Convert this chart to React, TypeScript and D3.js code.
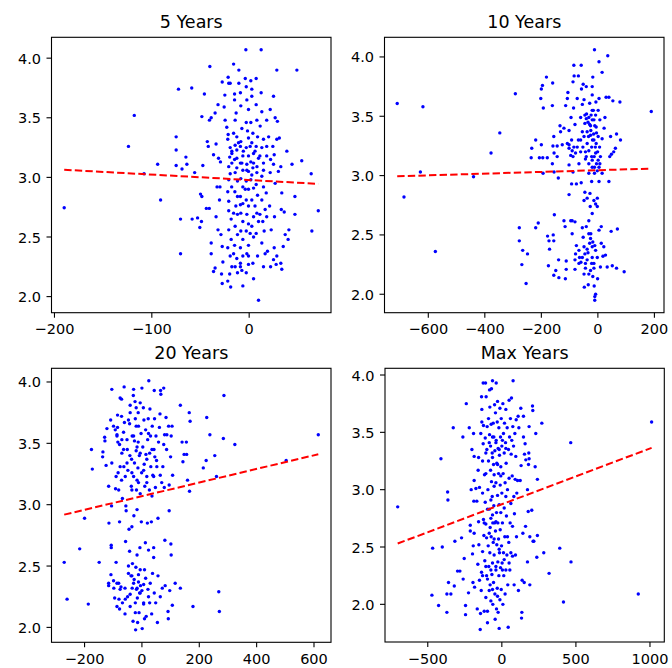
import React from "react";
import * as d3 from "d3";

// scatter values, [x, y]
const years5: [number, number][] = [
  [-190,2.745],[-118,3.52],[-124,3.26],[-108,3.03],[-94,3.11],[-91,2.81],[-75,3.34],[-75,3.23],[-75,3.10],[-72.6,3.74],
  [-70.5,2.65],[-70.5,2.36],[-65,3.17],[-69,3.07],[-64,3.11],[-59,3.75],[-58.6,2.65],[-56,3.04],[-47.6,3.10],[-46,3.70],
  [-48.6,3.51],[-50,2.86],[-48.6,2.84],[-53,2.66],[-50.7,2.58],[-49,2.63],[-40.4,3.93],[-39,3.50],[-40.8,3.48],[-43,3.30],
  [-42,3.26],[-44,2.74],[-41,2.74],[-39,2.45],[-39,2.36],[-36.6,2.21],[-35,2.24],[-35,3.54],[-34,3.28],[-32,3.61],
  [-36.6,3.19],[-31.5,3.16],[-29.5,3.13],[-33,2.92],[-30,2.92],[-30.5,2.81],[-34,2.67],[-32,2.56],[-29,2.52],[-27.7,2.42],
  [-27,2.29],[-28.4,2.19],[-27.7,2.11],[-27.7,3.80],[-25,3.69],[-25.7,3.59],[-24.7,3.48],[-23,3.42],[-21.6,3.84],[-21,3.79],
  [-19.5,3.79],[-21.6,3.36],[-22,3.32],[-19.5,3.25],[-17.8,3.22],[-20,3.17],[-17.8,3.12],[-21,3.09],[-19.5,3.03],[-21,2.98],
  [-18,2.92],[-22,2.88],[-21,2.80],[-21,2.72],[-18.5,2.65],[-21,2.56],[-18.5,2.48],[-22,2.41],[-19.5,2.34],[-17.8,2.25],
  [-20,2.19],[-19,2.08],[-22,2.13],[-16,3.95],[-15,3.70],[-15,3.65],[-13.4,3.54],[-14.4,3.48],[-12.7,3.34],[-14.4,3.27],
  [-12.7,3.23],[-15,3.15],[-12.7,3.08],[-14.4,3.04],[-12,2.97],[-14.7,2.88],[-12,2.84],[-13.7,2.76],[-12,2.69],[-14.4,2.59],
  [-12,2.52],[-15,2.43],[-12.7,2.32],[-14.4,2.25],[-12,2.20],[-10.6,3.90],[-10.6,3.79],[-9,3.71],[-8.6,3.60],[-7.5,3.41],
  [-8.6,3.30],[-9,3.26],[-6.5,3.18],[-9,3.12],[-6.5,3.06],[-8.6,2.99],[-6.5,2.92],[-9,2.84],[-6.5,2.78],[-8.6,2.70],
  [-6.5,2.63],[-8.6,2.55],[-6.5,2.48],[-9,2.41],[-6.5,2.34],[-9,2.28],[-7.5,2.22],[-6.5,2.09],[-4,3.83],[-3,3.76],
  [-3.4,4.07],[-2.4,3.65],[-0.7,3.57],[-3,3.46],[-1.7,3.39],[-0.7,3.33],[-3,3.25],[-0.7,3.18],[-2.4,3.11],[-0.7,3.05],
  [-3,2.97],[-0.7,2.90],[-3,2.81],[-0.7,2.76],[-2.4,2.69],[-0.7,2.61],[-3,2.55],[-0.7,2.43],[-2.4,2.36],[-0.7,2.27],
  [-3,2.20],[1.7,3.81],[2.7,3.74],[2.7,3.68],[1.7,3.46],[3.8,3.37],[2.7,3.29],[4.5,3.20],[1.7,3.13],[3.8,3.08],
  [1.7,2.98],[4.5,2.91],[2.7,2.81],[4.5,2.67],[2.7,2.59],[4.5,2.50],[3.8,2.28],[4.5,2.15],[7.2,3.83],[7.2,3.61],
  [7.9,3.48],[8.6,3.34],[7.2,3.26],[9.6,3.16],[7.9,3.04],[7.2,2.94],[8.6,2.85],[7.9,2.70],[9.6,2.63],[7.2,2.53],
  [8.6,2.34],[9.6,1.97],[12.3,4.07],[12.3,3.71],[13,3.55],[11.3,3.43],[14.7,3.32],[13,3.25],[14.7,3.12],[13,3.01],
  [14.7,2.92],[13,2.81],[16.4,2.73],[14,2.63],[15.4,2.55],[13,2.45],[16.4,2.36],[14.7,2.25],[18,3.48],[18,3.26],
  [18,3.18],[17.5,2.87],[18,2.67],[18.8,2.38],[21.6,3.57],[20,3.34],[21.6,3.04],[22,3.15],[21,2.76],[22.6,2.56],
  [22,2.25],[25,3.68],[26.7,3.50],[24.3,3.26],[25.7,3.19],[25,3.11],[26.7,2.95],[26,2.67],[25.7,2.41],[25,2.31],
  [28.4,3.90],[29,3.47],[28.4,3.32],[28.4,2.34],[27.7,2.27],[30,3.05],[31,3.33],[32.5,3.09],[33.5,2.87],[33,2.73],
  [32.5,2.28],[33.5,2.23],[36,2.71],[35,2.42],[38.7,3.22],[37,2.52],[40,2.48],[40.8,2.56],[44,3.11],[47,2.69],
  [47,2.84],[49,3.90],[54,3.14],[63.7,3.03],[64.4,2.55],[71,2.72],
  [-16,3.37],[-11,3.29],[-6,3.22],[1,3.26],[6,3.22],[11,3.18],[4.5,3.12],[-2.4,3.06],[-7.5,3.12],[-12.7,3.16],
  [-17.8,3.20],[8,3.09],[14.7,3.06],[2.7,3.02],[-4,2.90],[-9,2.77],[-16,2.70],[6,2.76],[11,2.69],[1,2.53],
  [-16,2.36],[-9,2.25],[-0.7,2.34],
];

const years10: [number, number][] = [
  [-710,3.607],[-686,2.82],[-619,3.58],[-628,3.03],[-575,2.36],[-440,2.99],[-378,3.19],[-347,3.36],[-292,3.69],[-278,2.56],
  [-278,2.45],[-266,2.37],[-269,2.25],[-249,2.34],[-254,2.09],[-236,3.15],[-234,3.23],[-220,3.30],[-220,2.56],[-211,2.60],
  [-207,3.15],[-202,3.65],[-200,3.73],[-196,3.76],[-193,3.57],[-200,3.26],[-195,3.15],[-194,3.02],[-182,3.83],[-179,3.15],
  [-178,2.49],[-173,2.45],[-171,2.38],[-175,2.24],[-160,3.78],[-161,3.59],[-156,3.33],[-159,3.25],[-155,3.19],[-161,3.10],
  [-155,3.03],[-158,2.50],[-156,2.45],[-154,2.67],[-156,2.16],[-149,2.20],[-144,3.25],[-144,3.16],[-140,2.98],[-138,2.14],
  [-139,2.29],[-134,3.42],[-132,3.37],[-126,3.26],[-120,3.40],[-120,2.62],[-116,2.57],[-115,2.13],[-114,3.59],[-112,2.28],
  [-112,2.21],[-108,3.65],[-106,3.70],[-102,3.38],[-102,3.26],[-102,3.09],[-102,2.84],[-96,2.62],[-95,3.49],[-93,3.30],
  [-93,2.93],[-91,2.62],[-91,2.51],[-88,3.79],[-85,3.93],[-86,3.57],[-88,3.16],[-88,3.03],[-84,3.84],[-81,3.43],
  [-85,3.24],[-81,2.61],[-81,2.29],[-81,2.21],[-76,2.93],[-76,2.41],[-73,3.65],[-69,3.84],[-69,3.30],[-67,3.10],
  [-67,2.37],[-65,2.31],[-61,3.49],[-61,3.20],[-59,3.93],[-59,2.94],[-60,2.27],[-58,3.73],[-55,3.60],[-55,3.37],
  [-55,2.56],[-52,3.77],[-52,2.48],[-49,3.64],[-49,3.33],[-49,2.79],[-49,2.40],[-49,2.17],[-48,2.06],[-46,3.44],
  [-46,2.86],[-44,3.20],[-44,3.14],[-44,2.22],[-41,3.75],[-41,2.57],[-40,3.52],[-38,3.37],[-38,3.27],[-38,2.81],
  [-38,2.29],[-35,2.35],[-34,2.08],[-32,3.49],[-32,3.21],[-32,3.02],[-32,2.62],[-29,3.61],[-29,2.43],[-28,2.85],
  [-27,2.74],[-26,3.42],[-26,3.34],[-26,2.20],[-25,2.51],[-22,2.95],[-22,3.24],[-20,3.75],[-20,3.68],[-20,3.47],
  [-20,3.13],[-20,2.68],[-20,2.40],[-20,2.31],[-18,3.83],[-18,2.15],[-16,3.55],[-15,3.35],[-14,3.30],[-14,2.79],
  [-14,2.26],[-13,2.07],[-12,4.06],[-12,3.07],[-11,1.98],[-11,1.95],[-8,2.00],[-8,3.51],[-8,3.19],[-8,2.76],
  [-8,2.37],[-7,3.62],[-6,3.41],[-6,3.27],[-5,3.10],[-2,2.81],[-2,2.74],[-2,2.31],[-1,2.13],[1,3.55],
  [1,3.33],[4,3.96],[4,3.65],[4,2.95],[4,2.54],[6,3.24],[7,3.47],[9,3.16],[9,2.23],[12,2.57],
  [12,2.43],[15,3.87],[15,3.31],[18,2.32],[21,2.40],[22,3.40],[25,3.49],[27,2.33],[29,3.66],[33,2.23],
  [35,4.01],[39,3.66],[39,2.95],[42,3.16],[45,3.33],[51,2.24],[47,2.53],[48,3.18],[53,3.63],[56,3.20],
  [62,3.23],[66,3.35],[69,2.55],[66,2.22],[80,3.30],[78,3.62],[93,2.19],[189,3.54],
  [-46,3.51],[-41,3.48],[-35,3.45],[-29,3.43],[-24,3.51],[-20,3.55],[-14,3.47],[-11,3.42],[-5,3.36],[-25,3.38],
  [-33,3.33],[-19,3.30],[-9,3.24],[-1,3.20],[-13,3.16],[-22,3.16],[1,3.13],[7,3.10],[-2,3.04],[-12,3.02],
  [4,3.07],[15,3.02],[-20,3.07],[-32,3.10],[-41,3.16],[-53,3.24],[-61,3.30],[-73,3.24],[-79,3.19],[-91,3.21],
  [-96,3.17],[-102,3.23],[-108,3.27],[-32,2.51],[-26,2.47],[-18,2.44],[-11,2.41],[-38,2.38],[-46,2.34],[-22,2.26],
  [-14,2.22],[-32,2.17],[-44,2.26],[-55,2.31],[-67,2.26],[-79,2.34],
];

const years20: [number, number][] = [
  [-271,2.53],[-261,2.23],[-200,2.89],[-217,2.64],[-187,2.19],[-149,2.53],[-176,3.45],[-173,3.29],[-136,3.43],[-137,3.39],
  [-130,3.55],[-129,3.52],[-122,3.62],[-125,3.32],[-116,3.15],[-115,2.85],[-116,2.36],[-116,2.34],[-109,3.69],[-107,2.67],
  [-107,2.65],[-108,2.43],[-105,3.94],[-105,3.34],[-106,2.99],[-99,3.64],[-99,2.38],[-98,2.32],[-95,2.24],[-93,3.61],
  [-92,3.13],[-90,3.23],[-90,2.53],[-87,3.57],[-87,2.17],[-85,3.73],[-85,3.63],[-84,3.51],[-83,3.26],[-81,3.12],
  [-81,2.36],[-80,2.23],[-78,2.86],[-78,2.15],[-78,3.49],[-76,3.87],[-76,3.31],[-73,2.33],[-71,3.72],[-71,3.86],
  [-71,3.20],[-70,3.42],[-68,3.05],[-68,2.20],[-64,3.59],[-64,3.45],[-63,3.31],[-62,3.96],[-61,3.67],[-59,2.11],
  [-59,2.32],[-58,3.23],[-57,2.70],[-56,2.99],[-55,2.95],[-52,3.53],[-51,3.45],[-50,2.25],[-49,3.28],[-47,2.50],
  [-47,2.44],[-45,2.80],[-43,2.62],[-43,3.66],[-42,3.40],[-41,3.81],[-41,3.75],[-41,2.17],[-38,2.42],[-37,3.15],
  [-36,3.37],[-35,2.82],[-34,2.32],[-34,3.56],[-33,2.52],[-31,2.05],[-30,3.89],[-29,3.94],[-29,3.23],[-28,2.91],
  [-27,2.39],[-26,3.52],[-26,3.34],[-24,3.84],[-23,3.70],[-23,2.20],[-22,1.98],[-21,2.49],[-20,3.79],[-20,3.64],
  [-20,3.44],[-19,3.12],[-19,2.31],[-17,2.96],[-17,2.59],[-16,2.24],[-15,2.04],[-14,3.30],[-13,3.75],[-13,3.51],
  [-12,3.18],[-12,2.37],[-10,2.12],[-9,3.40],[-8,2.28],[-7,2.65],[-6,3.83],[-6,3.09],[-5,2.34],[-3,3.58],
  [-2,2.86],[-1,3.26],[0,3.95],[0,2.30],[1,1.99],[3,3.47],[5,3.79],[6,2.19],[7,3.69],[8,3.33],
  [9,2.47],[9,2.07],[10,3.15],[12,2.69],[13,3.61],[13,2.40],[14,3.41],[15,2.09],[17,3.23],[19,2.85],
  [20,3.53],[21,2.31],[22,3.70],[23,2.63],[24,4.01],[26,3.12],[27,3.42],[27,2.20],[28,3.78],[29,2.36],
  [30,3.56],[31,3.31],[33,2.86],[34,2.11],[35,3.07],[36,3.64],[37,2.44],[38,3.24],[41,2.65],[41,2.57],
  [42,3.45],[43,2.28],[43,3.93],[44,3.70],[45,3.39],[47,3.14],[48,2.20],[49,3.56],[51,3.36],[54,2.04],
  [56,2.89],[56,2.42],[58,3.51],[61,3.63],[63,3.74],[64,3.24],[64,2.25],[65,3.93],[66,3.90],[69,3.18],
  [71,2.32],[73,3.31],[76,3.95],[76,3.49],[78,3.14],[79,3.57],[80,2.71],[81,2.34],[84,3.71],[86,3.45],
  [87,3.57],[91,2.13],[92,2.07],[93,3.64],[95,3.16],[95,2.95],[97,2.30],[100,3.39],[101,2.68],[102,2.59],
  [102,3.56],[105,3.64],[106,2.18],[107,3.24],[116,2.36],[134,3.81],[134,2.32],[140,3.51],[143,3.35],[147,3.41],
  [155,3.51],[156,3.41],[159,3.20],[165,3.75],[166,3.11],[168,3.68],[178,2.17],[214,3.30],[224,3.36],[226,3.71],
  [237,3.57],[254,3.40],[260,3.23],[268,2.29],[270,2.13],[284,3.54],[286,3.89],[324,3.49],[503,3.36],[615,3.57],
  [-29,3.56],[-17,3.47],[-6,3.42],[17,3.37],[35,3.45],[52,3.31],[6,3.28],[-35,3.26],[-52,3.34],[-70,3.53],
  [-87,3.56],[-47,3.69],[-12,3.64],[23,3.58],[41,3.23],[-17,3.20],[17,3.18],[-35,3.12],[-29,2.36],[-17,2.32],
  [-6,2.28],[6,2.35],[23,2.25],[-41,2.27],[-58,2.23],[-76,2.31],[-87,2.36],[-12,2.43],[6,2.20],[-23,2.12],
  [-6,2.47],[-35,2.42],
];

const yearsMax: [number, number][] = [
  [-703,2.85],[-467,2.49],[-472,2.08],[-427,1.99],[-411,3.27],[-402,2.50],[-366,2.98],[-364,2.91],[-371,1.93],[-360,2.19],
  [-371,2.09],[-344,2.09],[-328,3.54],[-321,2.16],[-317,2.55],[-299,2.29],[-283,2.29],[-272,2.58],[-263,3.46],[-261,2.22],
  [-254,2.40],[-245,1.99],[-245,1.91],[-240,3.75],[-225,2.10],[-220,3.54],[-213,2.69],[-213,2.64],[-207,3.00],[-202,3.35],
  [-198,2.44],[-195,2.19],[-193,2.51],[-191,3.49],[-189,2.90],[-187,3.29],[-187,3.08],[-187,2.62],[-184,2.15],[-175,3.01],
  [-169,2.90],[-166,1.96],[-162,2.35],[-160,3.17],[-157,3.28],[-157,2.72],[-155,2.52],[-151,3.02],[-151,2.21],[-146,1.78],
  [-144,1.92],[-142,3.49],[-139,2.12],[-137,2.28],[-137,3.81],[-135,3.59],[-135,3.70],[-130,3.25],[-130,2.46],[-126,3.93],
  [-126,3.40],[-124,3.56],[-124,2.74],[-121,2.60],[-119,1.94],[-117,3.13],[-115,2.38],[-112,2.89],[-112,3.45],[-110,3.93],
  [-108,2.06],[-108,2.70],[-106,3.81],[-103,2.25],[-103,2.58],[-101,3.35],[-99,3.55],[-97,1.94],[-97,1.84],[-94,3.00],
  [-92,2.51],[-90,3.62],[-90,3.25],[-88,2.33],[-85,2.83],[-85,2.12],[-83,3.87],[-83,3.48],[-81,3.72],[-81,2.45],
  [-79,2.67],[-79,2.17],[-76,3.17],[-76,3.38],[-74,2.75],[-74,2.03],[-72,3.57],[-72,2.59],[-70,3.88],[-70,3.07],
  [-67,2.26],[-65,3.32],[-65,2.94],[-63,3.95],[-63,2.36],[-61,2.00],[-61,2.71],[-58,3.58],[-58,2.54],[-56,3.22],
  [-56,2.19],[-54,2.86],[-54,3.46],[-52,3.13],[-52,2.43],[-49,3.74],[-49,2.71],[-47,3.34],[-47,2.09],[-45,1.87],
  [-43,3.67],[-43,2.64],[-40,3.06],[-40,2.30],[-38,3.93],[-38,3.43],[-36,2.80],[-36,1.96],[-34,3.23],[-34,2.52],
  [-31,3.59],[-31,2.14],[-29,2.95],[-29,3.77],[-27,2.37],[-27,2.71],[-25,3.36],[-25,1.93],[-22,3.14],[-22,2.57],
  [-20,3.54],[-20,2.25],[-18,1.79],[-18,2.87],[-16,3.30],[-16,2.45],[-13,3.71],[-13,2.04],[-11,3.04],[-11,2.65],
  [-9,3.46],[-9,2.32],[-7,3.20],[-7,2.80],[-4,3.62],[-4,2.13],[-2,2.51],[0,2.97],[0,3.38],[2,2.36],
  [4,2.71],[7,3.75],[7,2.00],[9,3.14],[11,3.49],[11,2.45],[13,2.25],[16,3.32],[16,2.84],[18,3.58],
  [20,2.59],[22,3.06],[22,2.09],[25,3.41],[27,3.70],[27,2.30],[29,3.23],[31,2.77],[34,2.43],[36,3.54],
  [38,3.00],[40,2.17],[43,1.80],[45,3.35],[47,2.54],[49,3.78],[49,3.10],[52,3.46],[54,2.30],[56,2.71],
  [58,3.62],[61,2.45],[63,3.31],[65,3.80],[67,3.43],[70,3.12],[72,2.42],[74,3.55],[76,3.95],[79,3.38],
  [81,2.94],[83,2.17],[85,2.79],[88,3.49],[90,3.09],[92,2.43],[94,3.29],[97,3.61],[99,2.59],[101,2.97],
  [106,3.08],[110,3.64],[112,2.12],[115,3.54],[124,3.08],[128,3.71],[130,3.21],[133,1.88],[135,1.93],[137,2.21],
  [142,2.62],[146,3.64],[146,3.46],[151,2.19],[153,3.31],[157,3.40],[160,2.68],[162,3.26],[173,2.37],[173,3.00],
  [178,2.81],[180,3.22],[182,3.32],[184,3.55],[184,3.27],[189,2.59],[189,2.17],[202,2.82],[207,3.73],[209,3.69],
  [211,2.55],[216,2.55],[225,3.20],[229,3.49],[236,2.41],[240,2.60],[240,3.09],[270,3.58],[283,2.45],[319,2.27],
  [391,2.49],[416,2.02],[465,3.41],[467,2.37],[921,2.09],[1011,3.59],
  [-63,3.46],[-40,3.41],[-18,3.35],[4,3.43],[27,3.36],[-85,3.41],[-108,3.32],[-63,3.28],[-29,3.22],[-7,3.12],
  [-52,3.03],[-74,2.91],[-97,2.83],[-63,2.78],[-40,2.72],[-85,2.62],[-52,2.57],[-18,2.48],[16,2.39],[-40,2.33],
  [-74,2.30],[-97,2.22],[-63,2.13],[-29,2.07],[4,2.30],[49,2.36],[38,2.59],[72,2.68],[61,2.88],[27,2.94],
  [-108,3.14],[-130,2.97],[-119,2.71],[-108,2.33],[-130,2.25],
];

// fitted line per panel: [slope, intercept]
const fits: [number, number][] = [
  [-0.000454, 2.978],
  [0.0000725, 3.0455],
  [0.000555, 3.0694],
  [0.000487, 2.8725],
];

const titles = ["5 Years", "10 Years", "20 Years", "Max Years"];
const xTicks = [
  [-200, -100, 0],
  [-600, -400, -200, 0, 200],
  [-200, 0, 200, 400, 600],
  [-500, 0, 500, 1000],
];
const yTicks = [2.0, 2.5, 3.0, 3.5, 4.0];

const panelData = [years5, years10, years20, yearsMax];

// frame boxes in px
const frames = [
  { x: 51.5, y: 37.3, w: 279.5, h: 275.4 },
  { x: 384.5, y: 37.3, w: 279.5, h: 275.4 },
  { x: 51.5, y: 368.3, w: 279.5, h: 274 },
  { x: 385, y: 368.3, w: 279.3, h: 273.7 },
];

const FONT = "DejaVu Sans, sans-serif";
const TICK_FS = 14.5;
const TITLE_FS = 17.5;
const TICK_LEN = 5;

const fmtMinus = (v: number, dec = 0) =>
  (v < 0 ? "\u2212" : "") + Math.abs(v).toFixed(dec);

const padded = (ext: [number, number]): [number, number] => {
  const r = ext[1] - ext[0];
  return [ext[0] - r * 0.05, ext[1] + r * 0.05];
};

const Panel = ({ i }: { i: number }) => {
  const data = panelData[i];
  const f = frames[i];
  const xExt = d3.extent(data, (d) => d[0]) as [number, number];
  const yExt = d3.extent(data, (d) => d[1]) as [number, number];
  const x = d3.scaleLinear().domain(padded(xExt)).range([f.x, f.x + f.w]);
  const y = d3.scaleLinear().domain(padded(yExt)).range([f.y + f.h, f.y]);
  const [m, b] = fits[i];
  const line = d3
    .line<number>()
    .x((v) => x(v))
    .y((v) => y(m * v + b));

  return (
    <g>
      <text
        x={f.x + f.w / 2}
        y={f.y - 9.5}
        textAnchor="middle"
        fontSize={TITLE_FS}
        fontFamily={FONT}
        fill="#000"
      >
        {titles[i]}
      </text>
      {data.map((d, k) => (
        <circle key={k} cx={x(d[0])} cy={y(d[1])} r={1.7} fill="#0000ff" />
      ))}
      <path
        d={line(xExt) || ""}
        fill="none"
        stroke="#ff0000"
        strokeWidth={2}
        strokeDasharray="7.4,3.2"
      />
      <rect
        x={f.x}
        y={f.y}
        width={f.w}
        height={f.h}
        fill="none"
        stroke="#000"
        strokeWidth={1.1}
      />
      {xTicks[i].map((t) => (
        <g key={"x" + t}>
          <line
            x1={x(t)}
            x2={x(t)}
            y1={f.y + f.h}
            y2={f.y + f.h + TICK_LEN}
            stroke="#000"
            strokeWidth={1.1}
          />
          <text
            x={x(t)}
            y={f.y + f.h + 21.5}
            textAnchor="middle"
            fontSize={TICK_FS}
            fontFamily={FONT}
            fill="#000"
          >
            {fmtMinus(t)}
          </text>
        </g>
      ))}
      {yTicks.map((t) => (
        <g key={"y" + t}>
          <line
            x1={f.x - TICK_LEN}
            x2={f.x}
            y1={y(t)}
            y2={y(t)}
            stroke="#000"
            strokeWidth={1.1}
          />
          <text
            x={f.x - 10.5}
            y={y(t)}
            dy="0.38em"
            textAnchor="end"
            fontSize={TICK_FS}
            fontFamily={FONT}
            fill="#000"
          >
            {fmtMinus(t, 1)}
          </text>
        </g>
      ))}
    </g>
  );
};

export default function App() {
  return (
    <svg
      width={672}
      height={668}
      style={{ position: "absolute", left: 0, top: 0, background: "#fff" }}
    >
      <rect width={672} height={668} fill="#fff" />
      {[0, 1, 2, 3].map((i) => (
        <Panel key={i} i={i} />
      ))}
    </svg>
  );
}
